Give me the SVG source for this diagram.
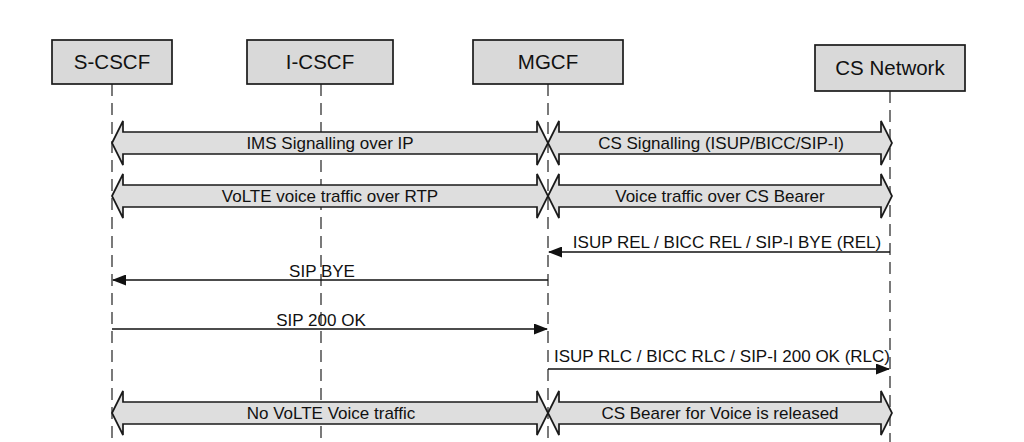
<svg xmlns="http://www.w3.org/2000/svg" width="1024" height="442" viewBox="0 0 1024 442">
<style>
.box{fill:#d9d9d9;stroke:#1a1a1a;stroke-width:1.7}
.life{stroke:#333;stroke-width:1.3;stroke-dasharray:12 7;fill:none}
.fat{fill:#dedede;stroke:#1a1a1a;stroke-width:1.7;stroke-linejoin:miter}
.msg{stroke:#111;stroke-width:1.6;fill:none}
.lbl{font-family:"Liberation Sans",Arial,sans-serif;font-size:20.5px;fill:#111;text-anchor:middle}
.t{font-family:"Liberation Sans",Arial,sans-serif;font-size:17px;fill:#111;text-anchor:middle}
</style>
<defs>
<marker id="ah" markerWidth="14" markerHeight="11" refX="13" refY="5.5" orient="auto" markerUnits="userSpaceOnUse">
<path d="M0,0 L14,5.5 L0,11 Z" fill="#111"/>
</marker>
</defs>
<rect width="1024" height="442" fill="#fff"/>
<g id="lifelines">
<line class="life" x1="112" y1="84" x2="112" y2="442"/>
<line class="life" x1="321" y1="84" x2="321" y2="442"/>
<line class="life" x1="548" y1="84" x2="548" y2="442"/>
<line class="life" x1="890" y1="91" x2="890" y2="442"/>
</g>
<g id="s-cscf"><rect class="box" x="52" y="40" width="120" height="44"/><text class="lbl" x="112" y="69">S-CSCF</text></g>
<g id="i-cscf"><rect class="box" x="247" y="40" width="146" height="44"/><text class="lbl" x="320" y="69">I-CSCF</text></g>
<g id="mgcf"><rect class="box" x="473" y="40" width="150" height="44"/><text class="lbl" x="548" y="69">MGCF</text></g>
<g id="cs-network"><rect class="box" x="815" y="45" width="150" height="46"/><text class="lbl" x="890" y="75">CS Network</text></g>
<g id="connectors">
<path class="fat" d="M112,143 L123,121 L123,132 L537,132 L537,121 L548,143 L537,165 L537,154 L123,154 L123,165 Z"/>
<path class="fat" d="M548,143 L559,121 L559,132 L881,132 L881,121 L892,143 L881,165 L881,154 L559,154 L559,165 Z"/>
<path class="fat" d="M112,196 L123,174 L123,185 L537,185 L537,174 L548,196 L537,218 L537,207 L123,207 L123,218 Z"/>
<path class="fat" d="M548,196 L559,174 L559,185 L881,185 L881,174 L892,196 L881,218 L881,207 L559,207 L559,218 Z"/>
<path class="fat" d="M112,413 L123,391 L123,402 L537,402 L537,391 L548,413 L537,435 L537,424 L123,424 L123,435 Z"/>
<path class="fat" d="M548,413 L559,391 L559,402 L881,402 L881,391 L892,413 L881,435 L881,424 L559,424 L559,435 Z"/>
<line class="msg" x1="890" y1="252" x2="549" y2="252" marker-end="url(#ah)"/>
<line class="msg" x1="548" y1="280" x2="113" y2="280" marker-end="url(#ah)"/>
<line class="msg" x1="112" y1="329" x2="547" y2="329" marker-end="url(#ah)"/>
<line class="msg" x1="548" y1="369" x2="889" y2="369" marker-end="url(#ah)"/>
<text class="t" x="330" y="149">IMS Signalling over IP</text>
<text class="t" x="721" y="149">CS Signalling (ISUP/BICC/SIP-I)</text>
<text class="t" x="330" y="202">VoLTE voice traffic over RTP</text>
<text class="t" x="720" y="202">Voice traffic over CS Bearer</text>
<text class="t" x="727" y="248">ISUP REL / BICC REL / SIP-I BYE (REL)</text>
<text class="t" x="322" y="277">SIP BYE</text>
<text class="t" x="321" y="326">SIP 200 OK</text>
<text class="t" x="722" y="362">ISUP RLC / BICC RLC / SIP-I 200 OK (RLC)</text>
<text class="t" x="331" y="419">No VoLTE Voice traffic</text>
<text class="t" x="720" y="419">CS Bearer for Voice is released</text>
</g>
</svg>
